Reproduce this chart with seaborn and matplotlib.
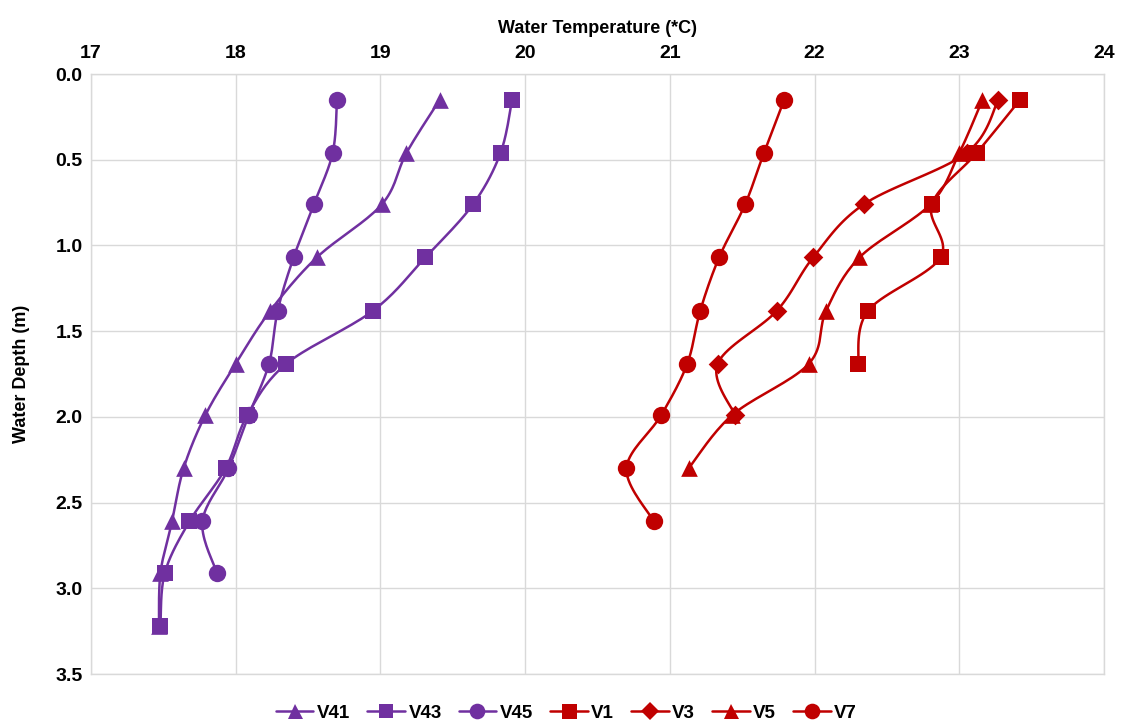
import numpy as np
import pandas as pd
import seaborn as sns
import matplotlib.pyplot as plt
from matplotlib.lines import Line2D

# Profile depths (m)
depth = [0.15, 0.46, 0.76, 1.07, 1.38, 1.69, 1.99, 2.30, 2.61, 2.91, 3.22]

# Water temperature profiles (deg C), one list per station
v41 = [19.41, 19.18, 19.01, 18.56, 18.24, 18.00, 17.79, 17.64, 17.56, 17.48, 17.47]
v43 = [19.91, 19.83, 19.64, 19.31, 18.95, 18.35, 18.08, 17.93, 17.68, 17.51, 17.48]
v45 = [18.70, 18.67, 18.54, 18.40, 18.29, 18.23, 18.09, 17.95, 17.77, 17.87]
v1 = [23.42, 23.12, 22.81, 22.87, 22.37, 22.30]
v3 = [23.27, 23.05, 22.34, 21.99, 21.74, 21.33, 21.45]
v5 = [23.16, 23.00, 22.80, 22.31, 22.08, 21.96, 21.43, 21.13]
v7 = [21.79, 21.65, 21.52, 21.34, 21.21, 21.12, 20.94, 20.70, 20.89]

names = ["V41", "V43", "V45", "V1", "V3", "V5", "V7"]
temps = [v41, v43, v45, v1, v3, v5, v7]

PURPLE = "#7030A0"
RED = "#C00000"
colors = [PURPLE, PURPLE, PURPLE, RED, RED, RED, RED]
markers = ["^", "s", "o", "s", "D", "^", "o"]
msizes = [12, 11, 12.5, 12, 10, 12, 12.5]


def smooth(xs, ys, n=20):
    """Bezier smoothing through every point (control points from neighbours)."""
    p = np.column_stack([xs, ys]).astype(float)
    if len(p) < 3:
        return p[:, 0], p[:, 1]
    ext = np.vstack([p[0], p, p[-1]])
    out = []
    t = np.linspace(0, 1, n)[:, None]
    for i in range(1, len(ext) - 2):
        p0, p1, p2, p3 = ext[i - 1], ext[i], ext[i + 1], ext[i + 2]
        c1 = p1 + (p2 - p0) / 6.0
        c2 = p2 - (p3 - p1) / 6.0
        seg = ((1 - t) ** 3) * p1 + 3 * ((1 - t) ** 2) * t * c1 + 3 * (1 - t) * t ** 2 * c2 + t ** 3 * p2
        out.append(seg if i == 1 else seg[1:])
    out = np.vstack(out)
    return out[:, 0], out[:, 1]


sns.set_theme(style="white")
plt.rcParams["font.family"] = ["Liberation Sans", "DejaVu Sans"]
plt.rcParams["font.weight"] = "bold"
plt.rcParams["text.color"] = "black"
plt.rcParams["axes.labelcolor"] = "black"

fig = plt.figure(figsize=(11.22, 7.25), dpi=100)
ax = fig.add_axes([0.0811, 0.0703, 0.9029, 0.8276])

for name, t, c, m, ms in zip(names, temps, colors, markers, msizes):
    d = depth[:len(t)]
    sx, sy = smooth(t, d)
    curve = pd.DataFrame({"temp": sx, "depth": sy})
    pts = pd.DataFrame({"temp": t, "depth": d})
    sns.lineplot(data=curve, x="temp", y="depth", sort=False, estimator=None,
                 color=c, linewidth=1.8, ax=ax, zorder=3)
    sns.scatterplot(data=pts, x="temp", y="depth", marker=m, s=ms ** 2,
                    color=c, edgecolor=c, linewidth=0, ax=ax, zorder=4)

ax.set_xlim(17, 24)
ax.set_ylim(3.5, 0.0)
ax.set_xticks(np.arange(17, 25, 1))
ax.set_yticks(np.arange(0, 3.51, 0.5))
ax.set_yticklabels([f"{v:.1f}" for v in np.arange(0, 3.51, 0.5)])
ax.xaxis.set_ticks_position("top")
ax.xaxis.set_label_position("top")
ax.tick_params(axis="both", length=0, labelsize=14, colors="black")
ax.tick_params(axis="x", pad=9)
ax.tick_params(axis="y", pad=6)
for lab in ax.get_xticklabels() + ax.get_yticklabels():
    lab.set_fontweight("bold")

ax.set_xlabel("Water Temperature (*C)", fontsize=13, fontweight="bold", labelpad=8,
              color="black")
ax.set_ylabel("Water Depth (m)", fontsize=13, fontweight="bold", labelpad=18,
              color="black")

ax.grid(True, color="#D9D9D9", linewidth=1.0)
ax.set_axisbelow(True)
for s in ax.spines.values():
    s.set_color("#D9D9D9")
    s.set_linewidth(1.0)

handles = [Line2D([0], [0], color=c, marker=m, markersize=ms * 0.9, linewidth=1.8,
                  markeredgewidth=0)
           for c, m, ms in zip(colors, markers, msizes)]
fig.legend(handles, names, loc="center", bbox_to_anchor=(0.505, 0.016), ncol=7,
           frameon=False, handlelength=2.0, handletextpad=0.2,
           columnspacing=0.9, prop={"weight": "bold", "size": 13.5})

fig.savefig("out.png", dpi=100)
